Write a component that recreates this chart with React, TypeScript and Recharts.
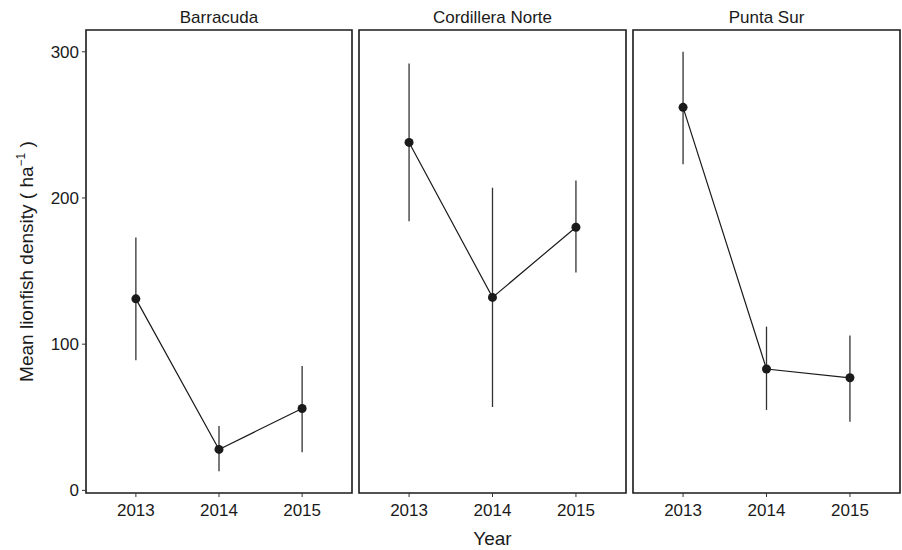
import React from 'react';
import {
  LineChart,
  Line,
  XAxis,
  YAxis,
  ErrorBar,
  ReferenceArea,
} from 'recharts';

// values
const years = [2013, 2014, 2015];
const sites = ['Barracuda', 'Cordillera Norte', 'Punta Sur'];

const barracudaMean = [131, 28, 56];
const barracudaLow = [89, 13, 26];
const barracudaHigh = [173, 44, 85];

const cordilleraMean = [238, 132, 180];
const cordilleraLow = [184, 57, 149];
const cordilleraHigh = [292, 207, 212];

const puntaMean = [262, 83, 77];
const puntaLow = [223, 55, 47];
const puntaHigh = [300, 112, 106];

const yTicks = [0, 100, 200, 300];

const X_DOMAIN: [number, number] = [2012.4, 2015.6];
const Y_DOMAIN: [number, number] = [-1.8, 314.9];

const FONT = '"Liberation Sans", Arial, Helvetica, sans-serif';
const INK = '#1a1a1a';

// build the rows for one panel; ErrorBar wants offsets from the mean
const buildRows = (mean: number[], low: number[], high: number[]) =>
  years.map((year, i) => ({
    year,
    mean: mean[i],
    err: [mean[i] - low[i], high[i] - mean[i]],
  }));

const panels = [
  buildRows(barracudaMean, barracudaLow, barracudaHigh),
  buildRows(cordilleraMean, cordilleraLow, cordilleraHigh),
  buildRows(puntaMean, puntaLow, puntaHigh),
];

// strip title above each panel
const StripTitle = ({ viewBox, value }: any) => {
  const cx = viewBox.x + viewBox.width / 2;
  return (
    <text x={cx} y={23} textAnchor="middle" fontSize={17} fontFamily={FONT} fill={INK}>
      {value}
    </text>
  );
};

const YearTitle = ({ viewBox }: any) => {
  const cx = viewBox.x + viewBox.width / 2;
  return (
    <text x={cx} y={545} textAnchor="middle" fontSize={19} fontFamily={FONT} fill={INK}>
      Year
    </text>
  );
};

const DensityTitle = ({ viewBox }: any) => {
  const cy = viewBox.y + viewBox.height / 2;
  return (
    <text
      transform={`translate(33, ${cy}) rotate(-90)`}
      textAnchor="middle"
      fontSize={19}
      fontFamily={FONT}
      fill={INK}
    >
      Mean lionfish density ( ha
      <tspan dy={-8} fontSize={12}>−1</tspan>
      <tspan dy={8}> )</tspan>
    </text>
  );
};

const tickStyle = { fontSize: 17, fontFamily: FONT, fill: INK };

// chart placement of the three facets
const layout = [
  { left: 0, width: 356, margin: { top: 0, right: 4, bottom: 0, left: 0 } },
  { left: 355, width: 275, margin: { top: 0, right: 4, bottom: 0, left: 4 } },
  { left: 629, width: 273, margin: { top: 0, right: 2, bottom: 0, left: 4 } },
];

function Panel({ idx }: { idx: number }) {
  const { left, width, margin } = layout[idx];
  const first = idx === 0;
  return (
    <div style={{ position: 'absolute', left, top: 0 }}>
      <LineChart width={width} height={550} data={panels[idx]} margin={margin}>
        <XAxis
          xAxisId="top"
          orientation="top"
          dataKey="year"
          type="number"
          domain={X_DOMAIN}
          allowDataOverflow
          height={30}
          tick={false}
          tickLine={false}
          axisLine={false}
          label={<StripTitle value={sites[idx]} />}
        />
        <XAxis
          dataKey="year"
          type="number"
          domain={X_DOMAIN}
          ticks={years}
          allowDataOverflow
          height={57}
          axisLine={false}
          tickLine={{ stroke: '#333' }}
          tickSize={4}
          tickMargin={7}
          tick={tickStyle}
          label={idx === 1 ? <YearTitle /> : undefined}
        />
        <YAxis
          type="number"
          domain={Y_DOMAIN}
          ticks={yTicks}
          allowDataOverflow
          width={first ? 86 : 0}
          hide={!first}
          axisLine={false}
          tickLine={{ stroke: '#333' }}
          tickSize={4}
          tickMargin={3}
          tick={tickStyle}
          label={first ? <DensityTitle /> : undefined}
        />
        <ReferenceArea
          xAxisId={0}
          x1={X_DOMAIN[0]}
          x2={X_DOMAIN[1]}
          y1={Y_DOMAIN[0]}
          y2={Y_DOMAIN[1]}
          fill="none"
          stroke={INK}
          strokeWidth={1.6}
          ifOverflow="visible"
        />
        <Line
          dataKey="mean"
          stroke={INK}
          strokeWidth={1.2}
          dot={{ r: 4.5, fill: INK, stroke: INK, strokeWidth: 0 }}
          isAnimationActive={false}
        >
          <ErrorBar dataKey="err" width={0} stroke="#333" strokeWidth={1.3} direction="y" />
        </Line>
      </LineChart>
    </div>
  );
}

export default function App() {
  return (
    <div
      style={{
        position: 'absolute',
        left: 0,
        top: 0,
        width: 902,
        height: 550,
        background: '#fff',
      }}
    >
      {sites.map((s, i) => (
        <Panel key={s} idx={i} />
      ))}
    </div>
  );
}
